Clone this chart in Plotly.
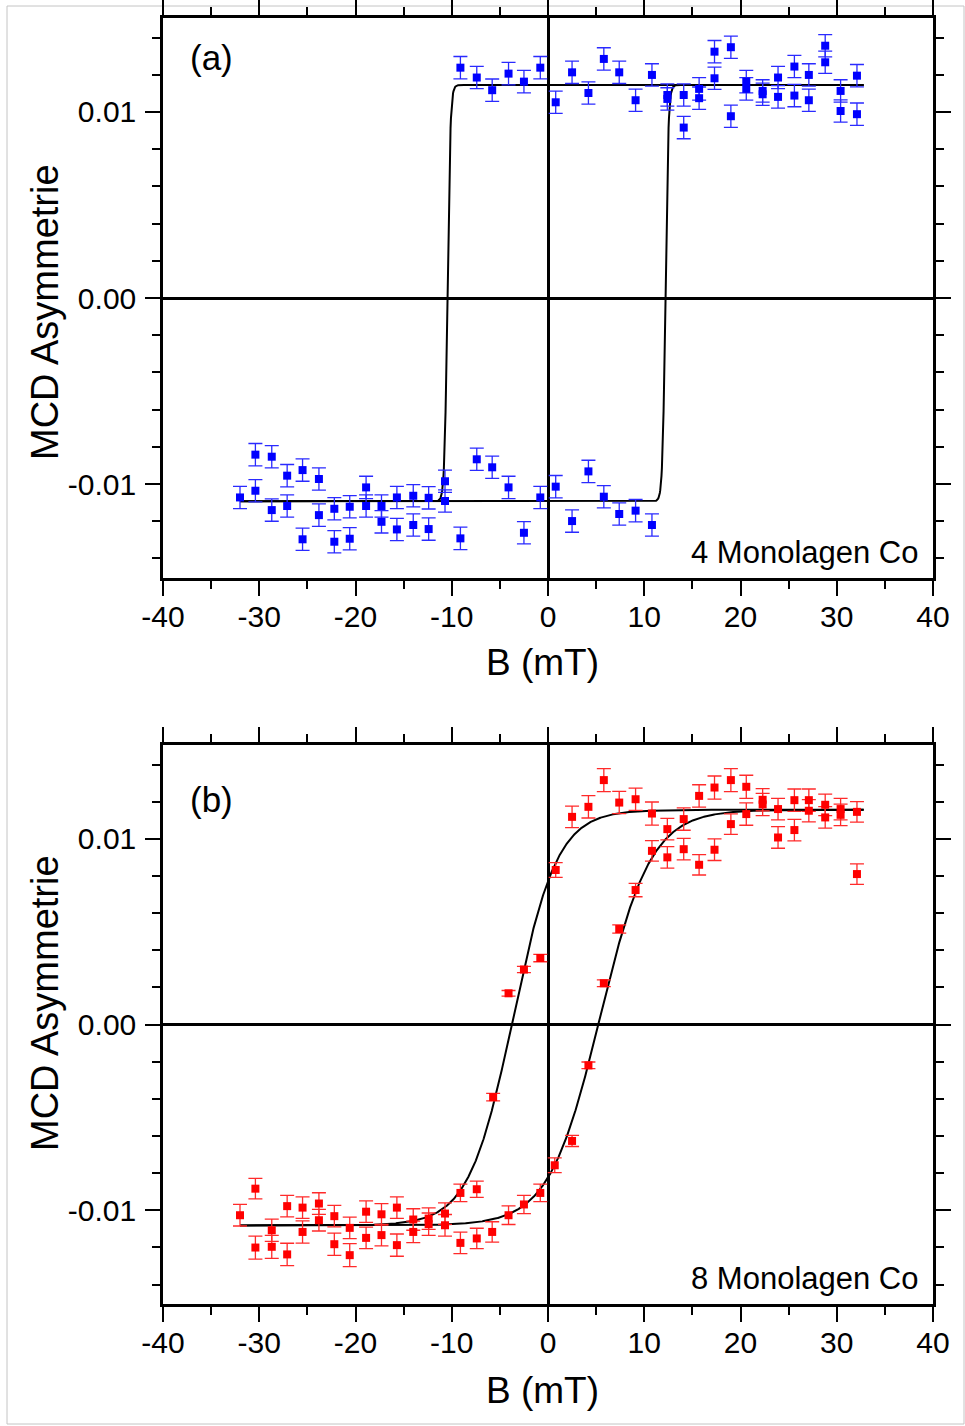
import numpy as np
import plotly.graph_objects as go

# ---------------- measured data ----------------
# Panel (a): 4 monolayers Co
field_a = [-32.0, -30.4, -30.4, -28.7, -28.7, -27.1, -27.1, -25.5, -25.5, -23.8, -23.8,
           -22.2, -22.2, -20.6, -20.6, -18.9, -18.9, -17.3, -17.3, -15.7, -15.7, -14.0, -14.0,
           -12.4, -12.4, -10.7, -10.7, -9.1, -9.1, -7.4, -7.4, -5.8, -5.8, -4.1, -4.1,
           -2.5, -2.5, -0.8, -0.8, 0.8, 0.8, 2.5, 2.5, 4.2, 4.2, 5.8, 5.8, 7.4, 7.4,
           9.1, 9.1, 10.8, 10.8, 12.4, 12.4, 14.1, 14.1, 15.7, 15.7, 17.3, 17.3, 19.0, 19.0,
           20.6, 20.6, 22.3, 22.3, 23.9, 23.9, 25.6, 25.6, 27.1, 27.1, 28.8, 28.8,
           30.4, 30.4, 32.1, 32.1]
asym_a = [-0.01072, -0.00842, -0.01036, -0.00853, -0.01140, -0.00955, -0.01118,
          -0.00925, -0.01297, -0.00973, -0.01167, -0.01133, -0.01310, -0.01122, -0.01294,
          -0.01018, -0.01118, -0.01118, -0.01203, -0.01072, -0.01244, -0.01063, -0.01220,
          -0.01074, -0.01242, -0.00985, -0.01091, 0.01238, -0.01292, 0.01185, -0.00867,
          0.01117, -0.00910, 0.01206, -0.01018, 0.01163, -0.01262, 0.01238, -0.01072,
          0.01052, -0.01014, 0.01213, -0.01199, 0.01102, -0.00932, 0.01285, -0.01068,
          0.01213, -0.01161, 0.01063, -0.01143, 0.01199, -0.01220, 0.01091, 0.01070,
          0.01091, 0.00916, 0.01124, 0.01074, 0.01324, 0.01181, 0.01348, 0.00977,
          0.01163, 0.01124, 0.01113, 0.01095, 0.01185, 0.01081, 0.01244, 0.01088,
          0.01199, 0.01063, 0.01356, 0.01267, 0.01113, 0.01005, 0.01195, 0.00988]
err_a = 0.0006

# Panel (b): 8 monolayers Co
field_b = [-32.0, -30.4, -30.4, -28.7, -28.7, -27.1, -27.1, -25.5, -25.5, -23.8, -23.8,
           -22.2, -22.2, -20.6, -20.6, -18.9, -18.9, -17.3, -17.3, -15.7, -15.7, -14.0, -14.0,
           -12.4, -12.4, -10.7, -10.7, -9.1, -9.1, -7.4, -7.4, -5.7, -5.8, -4.1, -4.1,
           -2.5, -2.5, -0.8, -0.8, 0.8, 0.7, 2.5, 2.5, 4.2, 4.2, 5.8, 5.8, 7.4, 7.4,
           9.1, 9.1, 10.8, 10.8, 12.4, 12.4, 14.1, 14.1, 15.7, 15.7, 17.3, 17.3, 19.0, 19.0,
           20.6, 20.6, 22.3, 22.3, 23.9, 23.9, 25.6, 25.6, 27.1, 27.1, 28.8, 28.8,
           30.4, 30.4, 32.1, 32.1]
asym_b = [-0.01027, -0.00884, -0.01201, -0.01108, -0.01197, -0.00978, -0.01238,
          -0.00986, -0.01117, -0.00964, -0.01054, -0.01032, -0.01183, -0.01095, -0.01242,
          -0.01008, -0.01149, -0.01022, -0.01134, -0.00986, -0.01188, -0.01050, -0.01117,
          -0.01045, -0.01075, -0.01018, -0.01081, -0.00907, -0.01176, -0.00887, -0.01152,
          -0.00391, -0.01117, 0.00168, -0.01027, 0.00296, -0.00969, 0.00358, -0.00907,
          0.00832, -0.00758, 0.01118, -0.00627, 0.01172, -0.00220, 0.01316, 0.00222,
          0.01195, 0.00514, 0.01213, 0.00724, 0.01136, 0.00935, 0.01052, 0.00900,
          0.01106, 0.00944, 0.01231, 0.00860, 0.01276, 0.00941, 0.01316, 0.01079,
          0.01280, 0.01133, 0.01210, 0.01185, 0.01160, 0.01007, 0.01208, 0.01047,
          0.01208, 0.01151, 0.01183, 0.01115, 0.01160, 0.01129, 0.01145, 0.00810]
err_b = [0.00058, 0.00055, 0.00062, 0.00060, 0.00062, 0.00058, 0.00060,
         0.00058, 0.00060, 0.00058, 0.00058, 0.00058, 0.00060, 0.00058, 0.00062,
         0.00058, 0.00058, 0.00058, 0.00058, 0.00058, 0.00060, 0.00058, 0.00058,
         0.00058, 0.00060, 0.00058, 0.00058, 0.00047, 0.00058, 0.00044, 0.00055,
         0.00020, 0.00055, 0.00015, 0.00050, 0.00017, 0.00049, 0.00020, 0.00047,
         0.00040, 0.00040, 0.00058, 0.00030, 0.00060, 0.00018, 0.00062, 0.00018,
         0.00060, 0.00022, 0.00060, 0.00036, 0.00062, 0.00055, 0.00058, 0.00058,
         0.00060, 0.00058, 0.00060, 0.00055, 0.00062, 0.00058, 0.00062, 0.00055,
         0.00062, 0.00060, 0.00060, 0.00060, 0.00058, 0.00058, 0.00060, 0.00058,
         0.00060, 0.00060, 0.00058, 0.00058, 0.00058, 0.00058, 0.00055, 0.00055]

# Fitted hysteresis branches: saturation levels, switching fields and widths (mT)
fit_a = dict(low=-0.01093, high=0.01145, bc_down=-10.45, w_down=0.3, bc_up=12.2, w_up=0.3)
fit_b = dict(low=-0.01082, high=0.01156, bc_down=-3.62, w_down=4.6, bc_up=5.4, w_up=5.3)
fit_span = (-32.0, 32.8)

# Axis ticks
x_tickvals = [-40, -30, -20, -10, 0, 10, 20, 30, 40]
x_ticktext = ["-40", "-30", "-20", "-10", "0", "10", "20", "30", "40"]
x_minor = [-35, -25, -15, -5, 5, 15, 25, 35]
y_tickvals = [-0.01, 0.0, 0.01]
y_ticktext = ["-0.01", "0.00", "0.01"]
y_minor = [-0.014, -0.012, -0.008, -0.006, -0.004, -0.002,
           0.002, 0.004, 0.006, 0.008, 0.012, 0.014]

# ---------------- figure ----------------
W, H = 965, 1426
L, R, T, B = 163, 32, 18, 122
PW, PH = W - L - R, H - T - B
BOTTOM_PX = H - B


def px_x(x):
    return (x - L) / PW


def px_y(y):
    return (BOTTOM_PX - y) / PH


def branch(p, bc, w, b):
    mid = 0.5 * (p["high"] + p["low"])
    amp = 0.5 * (p["high"] - p["low"])
    return mid + amp * np.tanh((b - bc) / w)


FONT = "Liberation Sans, Arial, sans-serif"
fig = go.Figure()

b_fit = np.linspace(fit_span[0], fit_span[1], 1500)
for p, xa, ya in [(fit_a, "x", "y"), (fit_b, "x2", "y2")]:
    for bc, w in [(p["bc_down"], p["w_down"]), (p["bc_up"], p["w_up"])]:
        fig.add_trace(go.Scatter(x=b_fit, y=branch(p, bc, w, b_fit), mode="lines",
                                 line=dict(color="black", width=2),
                                 xaxis=xa, yaxis=ya, showlegend=False, hoverinfo="skip"))

fig.add_trace(go.Scatter(
    x=field_a, y=asym_a, mode="markers", xaxis="x", yaxis="y", showlegend=False,
    marker=dict(symbol="square", size=8, color="#0000ff", line=dict(width=0)),
    error_y=dict(type="constant", value=err_a, color="#2a2aff", thickness=1.3, width=7)))

fig.add_trace(go.Scatter(
    x=field_b, y=asym_b, mode="markers", xaxis="x2", yaxis="y2", showlegend=False,
    marker=dict(symbol="square", size=8, color="#ff0000", line=dict(width=0)),
    error_y=dict(type="data", array=err_b, color="#ff2a2a", thickness=1.3, width=7)))

tickfont = dict(family=FONT, size=30, color="black")
xaxis_common = dict(range=[-40, 40], showgrid=False, zeroline=True, zerolinecolor="black",
                    zerolinewidth=2.5, showline=True, linecolor="black", linewidth=2.5,
                    mirror="allticks", ticks="outside", ticklen=15, tickwidth=2,
                    tickcolor="black", tickmode="array", tickvals=x_tickvals,
                    ticktext=x_ticktext, tickfont=tickfont, ticklabelstandoff=-5,
                    automargin=False,
                    minor=dict(tickmode="array", tickvals=x_minor, ticks="outside",
                               ticklen=8, tickwidth=2, tickcolor="black", showgrid=False))
yaxis_common = dict(range=[-0.01505, 0.01505], showgrid=False, zeroline=True,
                    zerolinecolor="black", zerolinewidth=2.5, showline=True,
                    linecolor="black", linewidth=2.5, mirror="allticks", ticks="outside",
                    ticklen=15, tickwidth=2, tickcolor="black", tickmode="array",
                    tickvals=y_tickvals, ticktext=y_ticktext, tickfont=tickfont,
                    ticklabelstandoff=3, automargin=False,
                    minor=dict(tickmode="array", tickvals=y_minor, ticks="outside",
                               ticklen=8, tickwidth=2, tickcolor="black", showgrid=False))

top_a, bot_a = px_y(18), px_y(578)
top_b, bot_b = px_y(745), px_y(1304)

fig.update_layout(
    width=W, height=H, margin=dict(l=L, r=R, t=T, b=B, autoexpand=False),
    paper_bgcolor="white", plot_bgcolor="white",
    xaxis=dict(xaxis_common, anchor="y", domain=[0, 1]),
    yaxis=dict(yaxis_common, anchor="x", domain=[bot_a, top_a]),
    xaxis2=dict(xaxis_common, anchor="y2", domain=[0, 1]),
    yaxis2=dict(yaxis_common, anchor="x2", domain=[bot_b, top_b]),
    font=dict(family=FONT, color="black"),
)

ann = []
title_font = dict(family=FONT, size=37, color="black")
for yc_b, yc_t in [(662, 312), (1390, 1003)]:
    ann.append(dict(text="B (mT)", x=px_x(542), y=px_y(yc_b), xref="paper", yref="paper",
                    xanchor="center", yanchor="middle", showarrow=False, font=title_font))
    ann.append(dict(text="MCD Asymmetrie", x=px_x(45), y=px_y(yc_t), xref="paper",
                    yref="paper", xanchor="center", yanchor="middle", textangle=-90,
                    showarrow=False, font=dict(family=FONT, size=38, color="black")))
for label, yc in [("(a)", 57), ("(b)", 799)]:
    ann.append(dict(text=label, x=px_x(188), y=px_y(yc), xref="paper", yref="paper",
                    xanchor="left", yanchor="middle", showarrow=False,
                    font=dict(family=FONT, size=35, color="black")))
for label, yc in [("4 Monolagen Co", 552), ("8 Monolagen Co", 1278)]:
    ann.append(dict(text=label, x=px_x(921), y=px_y(yc), xref="paper", yref="paper",
                    xanchor="right", yanchor="middle", showarrow=False,
                    font=dict(family=FONT, size=31, color="black")))
fig.update_layout(annotations=ann)

# thin outer frame around the whole figure
fig.add_shape(type="rect", xref="paper", yref="paper",
              x0=px_x(7), x1=px_x(964), y0=px_y(1424), y1=px_y(6),
              line=dict(color="#c4c4c4", width=1), fillcolor="rgba(0,0,0,0)", layer="below")

fig.write_html("out.html")
